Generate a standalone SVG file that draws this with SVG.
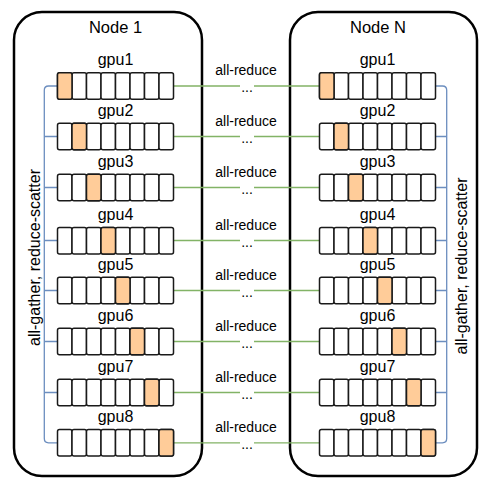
<svg xmlns="http://www.w3.org/2000/svg" width="487" height="483" viewBox="0 0 487 483">
<style>
text{font-family:"Liberation Sans",Arial,sans-serif;fill:#000;text-anchor:middle}
.node{fill:#fff;stroke:#000;stroke-width:2.5}
.cell{fill:#fff;stroke:#1a1a1a;stroke-width:1.5}
.hot{fill:#ffcc99;stroke:#1a1a1a;stroke-width:1.5}
.g{stroke:#82b366;stroke-width:1.3;fill:none}
.b{stroke:#6c8ebf;stroke-width:1.3;fill:none}
.t16{font-size:16px}
.t14{font-size:14px}
</style>
<defs>
<g id="row8">
<rect class="cell" x="0" y="0" width="14.5" height="26.5" rx="2"/>
<rect class="cell" x="14.5" y="0" width="14.5" height="26.5" rx="2"/>
<rect class="cell" x="29" y="0" width="14.5" height="26.5" rx="2"/>
<rect class="cell" x="43.5" y="0" width="14.5" height="26.5" rx="2"/>
<rect class="cell" x="58" y="0" width="14.5" height="26.5" rx="2"/>
<rect class="cell" x="72.5" y="0" width="14.5" height="26.5" rx="2"/>
<rect class="cell" x="87" y="0" width="14.5" height="26.5" rx="2"/>
<rect class="cell" x="101.5" y="0" width="14.5" height="26.5" rx="2"/>
</g>
</defs>
<g id="node1">
<rect class="node" x="14" y="12" width="188" height="464" rx="28"/>
<text class="t16" x="115.5" y="33" style="font-size:16.5px">Node 1</text>
</g>
<g id="nodeN">
<rect class="node" x="290" y="12" width="187" height="464" rx="28"/>
<text class="t16" x="378" y="33" style="font-size:16.5px">Node N</text>
</g>
<g id="connectors">
<path class="b" d="M57.5 86 H48.5 Q44.3 86 44.3 90.2 V438.6 Q44.3 442.8 48.5 442.8 H57.5"/>
<path class="b" d="M44.3 136.5 H57.5 M44.3 187.5 H57.5 M44.3 240.5 H57.5 M44.3 290.5 H57.5 M44.3 341.5 H57.5 M44.3 392.5 H57.5"/>
<path class="b" d="M435.5 86 H442.5 Q446.7 86 446.7 90.2 V438.6 Q446.7 442.8 442.5 442.8 H435.5"/>
<path class="b" d="M446.7 136.5 H435.5 M446.7 187.5 H435.5 M446.7 240.5 H435.5 M446.7 290.5 H435.5 M446.7 341.5 H435.5 M446.7 392.5 H435.5"/>
<path class="g" d="M173.5 86 H240 M254 86 H319.5 M173.5 136.5 H240 M254 136.5 H319.5 M173.5 187.5 H240 M254 187.5 H319.5 M173.5 240.5 H240 M254 240.5 H319.5 M173.5 290.5 H240 M254 290.5 H319.5 M173.5 341.5 H240 M254 341.5 H319.5 M173.5 392.5 H240 M254 392.5 H319.5 M173.5 442.8 H240 M254 442.8 H319.5"/>
<text class="t14" x="246" y="75">all-reduce</text><text class="t14" x="247" y="92">...</text>
<text class="t14" x="246" y="125.5">all-reduce</text><text class="t14" x="247" y="142.5">...</text>
<text class="t14" x="246" y="176.5">all-reduce</text><text class="t14" x="247" y="193.5">...</text>
<text class="t14" x="246" y="229.5">all-reduce</text><text class="t14" x="247" y="246.5">...</text>
<text class="t14" x="246" y="279.5">all-reduce</text><text class="t14" x="247" y="296.5">...</text>
<text class="t14" x="246" y="330.5">all-reduce</text><text class="t14" x="247" y="347.5">...</text>
<text class="t14" x="246" y="381.5">all-reduce</text><text class="t14" x="247" y="398.5">...</text>
<text class="t14" x="246" y="431.5">all-reduce</text><text class="t14" x="247" y="448.5">...</text>
<text class="t16" transform="translate(39.5 257.5) rotate(-90)">all-gather, reduce-scatter</text>
<text class="t16" transform="translate(466.5 266) rotate(-90)">all-gather, reduce-scatter</text>
</g>
<g id="n1-gpu1"><text class="t16" x="115.5" y="65">gpu1</text><use href="#row8" x="57.5" y="72.7"/><rect class="hot" x="57.5" y="72.7" width="14.5" height="26.5" rx="2"/></g>
<g id="n1-gpu2"><text class="t16" x="115.5" y="115.5">gpu2</text><use href="#row8" x="57.5" y="123.3"/><rect class="hot" x="72" y="123.3" width="14.5" height="26.5" rx="2"/></g>
<g id="n1-gpu3"><text class="t16" x="115.5" y="166.5">gpu3</text><use href="#row8" x="57.5" y="174.3"/><rect class="hot" x="86.5" y="174.3" width="14.5" height="26.5" rx="2"/></g>
<g id="n1-gpu4"><text class="t16" x="115.5" y="219.5">gpu4</text><use href="#row8" x="57.5" y="227.5"/><rect class="hot" x="101" y="227.5" width="14.5" height="26.5" rx="2"/></g>
<g id="n1-gpu5"><text class="t16" x="115.5" y="269.5">gpu5</text><use href="#row8" x="57.5" y="277.3"/><rect class="hot" x="115.5" y="277.3" width="14.5" height="26.5" rx="2"/></g>
<g id="n1-gpu6"><text class="t16" x="115.5" y="320.5">gpu6</text><use href="#row8" x="57.5" y="328.3"/><rect class="hot" x="130" y="328.3" width="14.5" height="26.5" rx="2"/></g>
<g id="n1-gpu7"><text class="t16" x="115.5" y="371.5">gpu7</text><use href="#row8" x="57.5" y="379.3"/><rect class="hot" x="144.5" y="379.3" width="14.5" height="26.5" rx="2"/></g>
<g id="n1-gpu8"><text class="t16" x="115.5" y="421.5">gpu8</text><use href="#row8" x="57.5" y="429.5"/><rect class="hot" x="159" y="429.5" width="14.5" height="26.5" rx="2"/></g>
<g id="nN-gpu1"><text class="t16" x="377.5" y="65">gpu1</text><use href="#row8" x="319.5" y="72.7"/><rect class="hot" x="319.5" y="72.7" width="14.5" height="26.5" rx="2"/></g>
<g id="nN-gpu2"><text class="t16" x="377.5" y="115.5">gpu2</text><use href="#row8" x="319.5" y="123.3"/><rect class="hot" x="334" y="123.3" width="14.5" height="26.5" rx="2"/></g>
<g id="nN-gpu3"><text class="t16" x="377.5" y="166.5">gpu3</text><use href="#row8" x="319.5" y="174.3"/><rect class="hot" x="348.5" y="174.3" width="14.5" height="26.5" rx="2"/></g>
<g id="nN-gpu4"><text class="t16" x="377.5" y="219.5">gpu4</text><use href="#row8" x="319.5" y="227.5"/><rect class="hot" x="363" y="227.5" width="14.5" height="26.5" rx="2"/></g>
<g id="nN-gpu5"><text class="t16" x="377.5" y="269.5">gpu5</text><use href="#row8" x="319.5" y="277.3"/><rect class="hot" x="377.5" y="277.3" width="14.5" height="26.5" rx="2"/></g>
<g id="nN-gpu6"><text class="t16" x="377.5" y="320.5">gpu6</text><use href="#row8" x="319.5" y="328.3"/><rect class="hot" x="392" y="328.3" width="14.5" height="26.5" rx="2"/></g>
<g id="nN-gpu7"><text class="t16" x="377.5" y="371.5">gpu7</text><use href="#row8" x="319.5" y="379.3"/><rect class="hot" x="406.5" y="379.3" width="14.5" height="26.5" rx="2"/></g>
<g id="nN-gpu8"><text class="t16" x="377.5" y="421.5">gpu8</text><use href="#row8" x="319.5" y="429.5"/><rect class="hot" x="421" y="429.5" width="14.5" height="26.5" rx="2"/></g>
</svg>
